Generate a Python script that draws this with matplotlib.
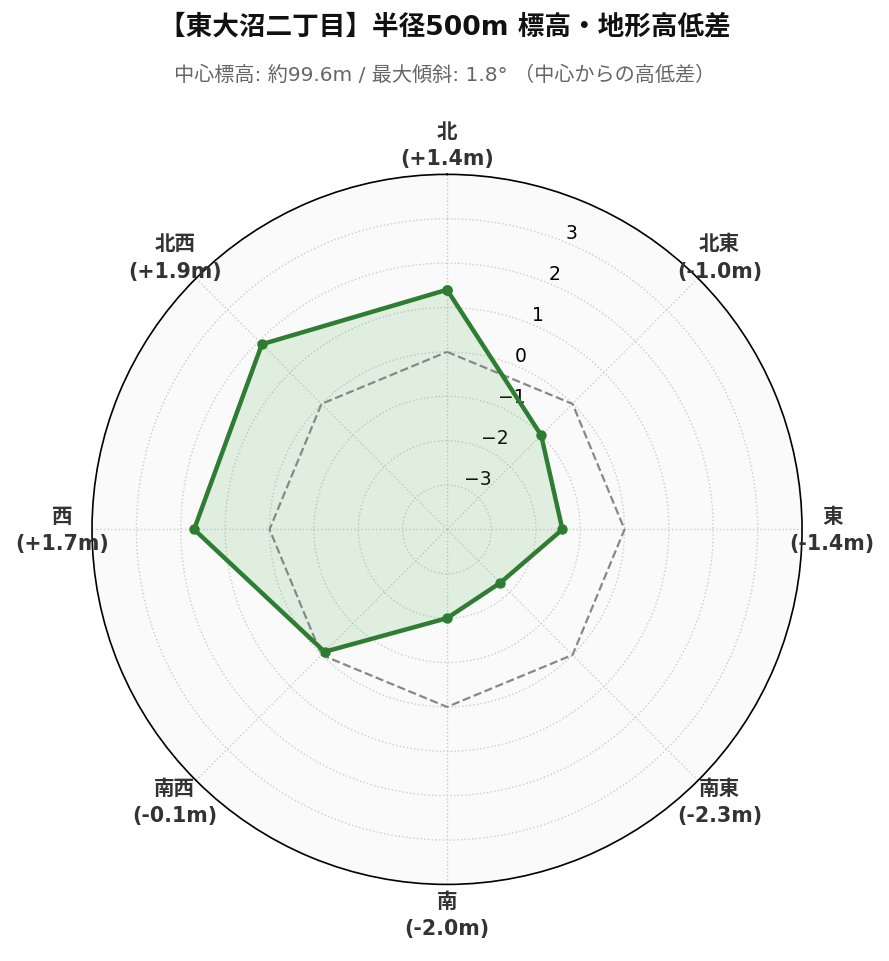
import matplotlib
matplotlib.use("Agg")
import matplotlib.pyplot as plt
import numpy as np

plt.rcParams['font.family'] = ['DejaVu Sans', 'Noto Sans CJK JP']

# データ（中心からの高低差, m）
directions = ["北", "北東", "東", "南東", "南", "南西", "西", "北西"]
diffs = [1.4, -1.0, -1.4, -2.3, -2.0, -0.1, 1.7, 1.9]
r_ticks = [-3, -2, -1, 0, 1, 2, 3]

title = "【東大沼二丁目】半径500m 標高・地形高低差"
subtitle = "中心標高: 約99.6m / 最大傾斜: 1.8° （中心からの高低差）"

n = len(directions)
angles = np.linspace(0, 2 * np.pi, n, endpoint=False)
ang_closed = np.append(angles, angles[0])
val_closed = np.append(diffs, diffs[0])

fig = plt.figure(figsize=(8.89, 9.62), dpi=100)
ax = fig.add_axes([0.1035, 0.0796, 0.7987, 0.7381], projection='polar')
ax.set_theta_zero_location('N')
ax.set_theta_direction(-1)
ax.set_facecolor('#fafafa')
ax.set_ylim(-4, 4)

# 基準線（高低差0）
ax.plot(ang_closed, np.zeros_like(ang_closed), color='#888888',
        linestyle='--', linewidth=1.6, zorder=3)

ax.fill(ang_closed, val_closed, color='#4caf50', alpha=0.15, zorder=2)
ax.plot(ang_closed, val_closed, color='#2e7d32', linewidth=3.2,
        marker='o', markersize=6.5, zorder=4)

# 方位ラベル（中央揃えで外周の少し外側に配置）
ax.set_xticks(angles)
ax.set_xticklabels([])
for a, d, v in zip(angles, directions, diffs):
    ax.text(a, 4.68, f"{d}\n({v:+.1f}m)", ha='center', va='center',
            fontsize=14.8, fontweight='bold', color='#333333',
            linespacing=1.45, clip_on=False, zorder=5)

ax.set_yticks(r_ticks)
ax.set_yticklabels([str(t).replace('-', '\u2212') for t in r_ticks],
                   fontsize=13.5)
ax.set_rlabel_position(22.5)

ax.grid(True, color='#cccccc', linestyle=':', linewidth=1.0)
ax.spines['polar'].set_color('black')
ax.spines['polar'].set_linewidth(1.2)

fig.text(0.5, 0.971, title, ha='center', va='center', fontsize=19.2,
         fontweight='bold', color='#111111')
fig.text(0.5, 0.922, subtitle, ha='center', va='center', fontsize=14.5,
         color='#666666')

fig.savefig('out.png', dpi=100, facecolor='white')
